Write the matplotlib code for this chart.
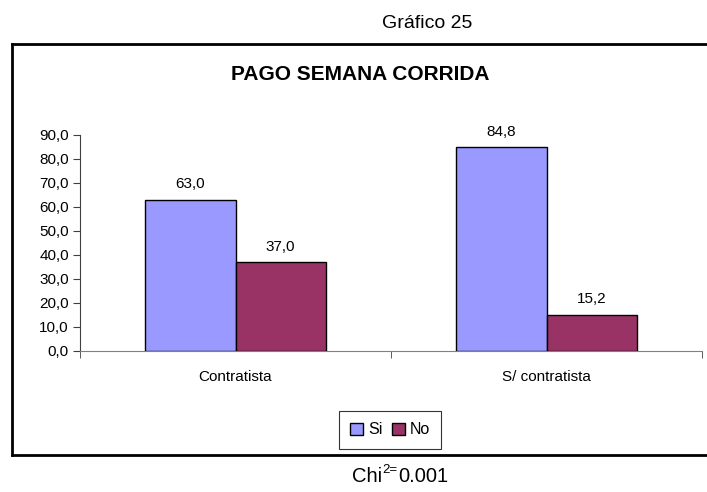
import matplotlib
matplotlib.use("Agg")
import matplotlib.pyplot as plt
from matplotlib.lines import Line2D
import numpy as np

plt.rcParams['font.family'] = ['Liberation Sans', 'DejaVu Sans']

categories = ["Contratista", "S/ contratista"]
series_names = ["Si", "No"]
si_values = [63.0, 84.8]
no_values = [37.0, 15.2]
yticks = [0, 10, 20, 30, 40, 50, 60, 70, 80, 90]
ytick_labels = ["0,0", "10,0", "20,0", "30,0", "40,0", "50,0", "60,0", "70,0", "80,0", "90,0"]
colors = ["#9999FF", "#993366"]

W, H = 707, 492
fig = plt.figure(figsize=(W / 100, H / 100), dpi=100)
ax = fig.add_axes([80 / W, 1 - 351 / H, (702 - 80) / W, (351 - 135) / H])

x = np.arange(len(categories))
bw = 0.29
for i, (vals, name, c) in enumerate(zip([si_values, no_values], series_names, colors)):
    pos = x + (i - 0.5) * bw
    bars = ax.bar(pos, vals, width=bw, color=c, edgecolor="black", linewidth=1.0, label=name, zorder=3)
    for b, v in zip(bars, vals):
        ax.annotate(f"{v:.1f}".replace(".", ","), (b.get_x() + b.get_width() / 2, v),
                    xytext=(0, 6), textcoords="offset points", ha="center", va="bottom",
                    fontsize=11)

ax.set_xlim(-0.5, 1.5)
ax.set_ylim(0, 90)
ax.set_yticks(yticks)
ax.set_yticklabels(ytick_labels, fontsize=11)
ax.set_xticks(x)
ax.set_xticklabels(categories, fontsize=11)
ax.tick_params(axis="x", length=0, pad=14)
ax.set_xticks([-0.5, 0.5, 1.5], minor=True)
ax.tick_params(axis="x", which="minor", length=5, color="#404040")
ax.tick_params(axis="y", length=5, color="#404040", pad=3)
for s in ["top", "right"]:
    ax.spines[s].set_visible(False)
ax.spines["left"].set_color("#404040")
ax.spines["bottom"].set_color("#808080")

leg = ax.legend(loc="center", bbox_to_anchor=(390 / W, 1 - 430 / H), bbox_transform=fig.transFigure,
                ncol=2, frameon=True, fancybox=False, edgecolor="black", fontsize=11.5,
                handlelength=0.8, handleheight=0.8, handletextpad=0.3, columnspacing=0.6,
                borderpad=0.7)
leg.get_frame().set_linewidth(0.8)

# outer chart frame (right side clipped off image)
lw = 2
fig.add_artist(Line2D([12 / W, 1.0], [1 - 44 / H, 1 - 44 / H], transform=fig.transFigure, color="black", lw=lw))
fig.add_artist(Line2D([12 / W, 1.0], [1 - 455 / H, 1 - 455 / H], transform=fig.transFigure, color="black", lw=lw))
fig.add_artist(Line2D([12 / W, 12 / W], [1 - 44 / H, 1 - 455 / H], transform=fig.transFigure, color="black", lw=lw))

fig.text(360 / W, 1 - 75 / H, "PAGO SEMANA CORRIDA", ha="center", va="center", fontsize=15, fontweight="bold")
fig.text(427 / W, 1 - 23 / H, "Gráfico 25", ha="center", va="center", fontsize=14)

# Chi^{2=}0.001 composed from three text pieces
fig.canvas.draw()
r = fig.canvas.get_renderer()
base_y = 1 - 482 / H
t1 = fig.text(352 / W, base_y, "Chi", ha="left", va="baseline", fontsize=14.5)
e1 = t1.get_window_extent(r)
t2 = fig.text((e1.x1 + 0.5) / W, base_y + 9 / H, "2=", ha="left", va="baseline", fontsize=9.5)
e2 = t2.get_window_extent(r)
fig.text((e2.x1 + 0.5) / W, base_y, "0.001", ha="left", va="baseline", fontsize=14.5)

fig.savefig("out.png", dpi=100)
